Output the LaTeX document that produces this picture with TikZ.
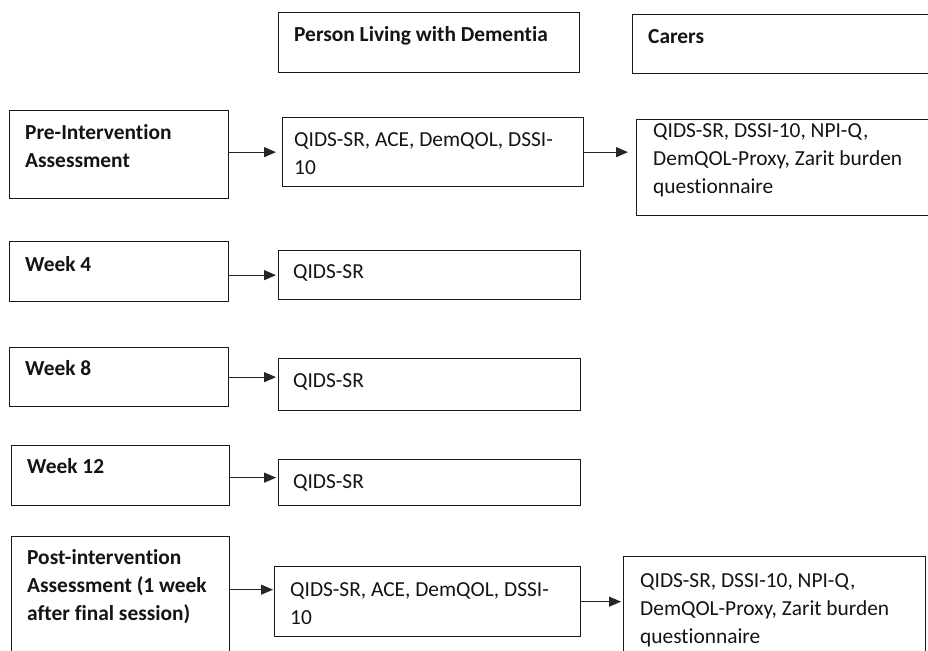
\documentclass[tikz,border=0pt]{standalone}
\usepackage{fontspec}
\setmainfont{Carlito}[Ligatures=NoCommon]
\usetikzlibrary{arrows.meta}
\newcommand\Tst{\rule{0pt}{17pt}}
\begin{document}
\begin{tikzpicture}[x={(1pt,0pt)},y={(0pt,-1pt)},
  box/.style={draw=black!90, line width=1.3pt, inner sep=0pt, anchor=north west},
  txt/.style={inner sep=0pt, anchor=north west, align=left, text=black!92,
    font=\fontsize{21.4}{28}\selectfont},
  btxt/.style={txt, font=\fontsize{21.4}{28}\selectfont\bfseries},
  arr/.style={draw=black!85, line width=1pt, -{Triangle[length=12pt,width=10pt]}}]
\useasboundingbox (0,0) rectangle (928,650);
\clip (0,0) rectangle (928,650);
\fill[white] (0,0) rectangle (928,650);

% column headers
\node[box, minimum width=301pt, minimum height=60pt] (hp) at (278,12) {};
\node[btxt] (hpt) at (294,41-17) {\Tst Person Living with Dementia};
\node[box, minimum width=320pt, minimum height=59pt] (hc) at (632,14) {};
\node[btxt] (hct) at (648,43-17) {\Tst Carers};

% row 1
\node[box, minimum width=219pt, minimum height=88pt] (pre) at (9,110) {};
\node[btxt] (pret) at (25,139-17) {\Tst Pre-Intervention\\Assessment};
\node[box, minimum width=301pt, minimum height=69pt] (p1) at (282,117) {};
\node[txt] (p1t) at (294,146-17) {\Tst QIDS-SR, ACE, DemQOL, DSSI-\\10};
\node[box, minimum width=320pt, minimum height=96pt] (c1) at (636,119) {};
\node[txt] (c1t) at (653,137-17) {\Tst QIDS-SR, DSSI-10, NPI-Q,\\DemQOL-Proxy, Zarit burden\\questionnaire};

% week 4
\node[box, minimum width=219pt, minimum height=60pt] (w4) at (9,241) {};
\node[btxt] (w4t) at (25,271-17) {\Tst Week 4};
\node[box, minimum width=302pt, minimum height=49pt] (q4) at (278,250) {};
\node[txt] (q4t) at (293,278-17) {\Tst QIDS-SR};

% week 8
\node[box, minimum width=219pt, minimum height=59pt] (w8) at (9,347) {};
\node[btxt] (w8t) at (25,375-17) {\Tst Week 8};
\node[box, minimum width=302pt, minimum height=52pt] (q8) at (278,358) {};
\node[txt] (q8t) at (293,387-17) {\Tst QIDS-SR};

% week 12
\node[box, minimum width=218pt, minimum height=60pt] (w12) at (11,445) {};
\node[btxt] (w12t) at (27,473-17) {\Tst Week 12};
\node[box, minimum width=302pt, minimum height=46pt] (q12) at (278,459) {};
\node[txt] (q12t) at (293,488-17) {\Tst QIDS-SR};

% post
\node[box, minimum width=218pt, minimum height=130pt] (post) at (11,536) {};
\node[btxt] (postt) at (27,564-17) {\Tst Post-intervention\\Assessment (1 week\\after final session)};
\node[box, minimum width=306pt, minimum height=70pt] (q5) at (274,566) {};
\node[txt] (q5t) at (290,596-17) {\Tst QIDS-SR, ACE, DemQOL, DSSI-\\10};
\node[box, minimum width=302pt, minimum height=110pt] (c5) at (623,556) {};
\node[txt] (c5t) at (640,587-17) {\Tst QIDS-SR, DSSI-10, NPI-Q,\\DemQOL-Proxy, Zarit burden\\questionnaire};

% arrows
\draw[arr, shorten >=6pt] (pre.east |- p1.west) -- (p1.west);
\draw[arr, shorten >=8pt] (p1.east) -- (p1.east -| c1.west);
\draw[arr, shorten >=2pt] (w4.east |- q4.west) -- (q4.west);
\draw[arr, shorten >=2pt] (w8.east) -- (w8.east -| q8.west);
\coordinate (a12) at ([yshift=-2pt]w12.east);
\draw[arr, shorten >=2pt] (a12) -- (a12 -| q12.west);
\coordinate (a5) at ([yshift=12pt]q5.west);
\draw[arr, shorten >=1pt] (post.east |- a5) -- (a5);
\draw[arr, shorten >=2pt] (q5.east) -- (q5.east -| c5.west);
\end{tikzpicture}
\end{document}
